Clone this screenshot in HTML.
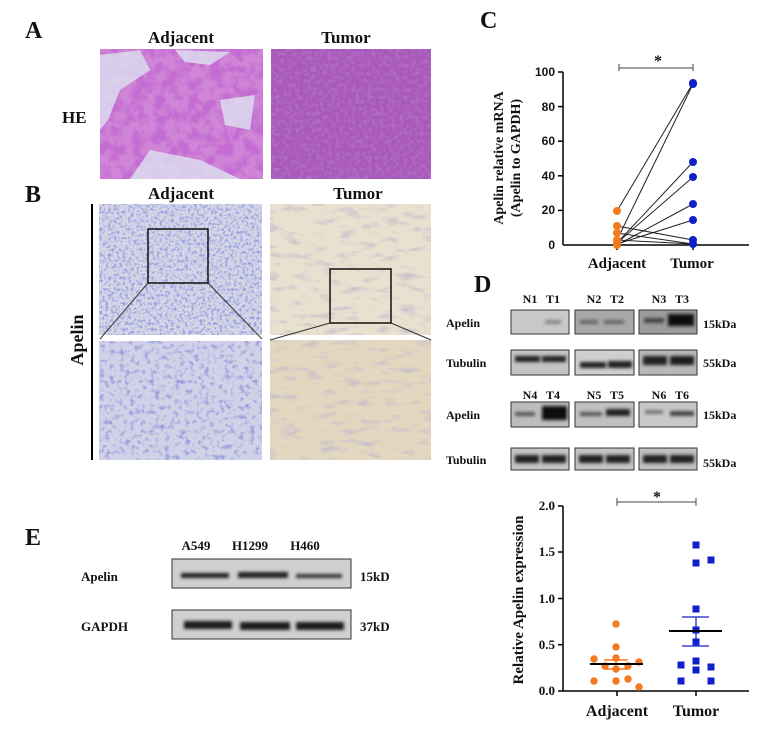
<!DOCTYPE html>
<html><head><meta charset="utf-8"><style>
html,body{margin:0;padding:0;background:#fff;width:774px;height:734px;overflow:hidden}
svg{display:block}
text{font-family:"Liberation Serif",serif;font-weight:bold;fill:#111}
</style></head><body>
<svg width="774" height="734" viewBox="0 0 774 734" xmlns="http://www.w3.org/2000/svg">
<defs>
<filter id="n1" x="0" y="0" width="100%" height="100%"><feTurbulence type="fractalNoise" baseFrequency="0.09" numOctaves="3" seed="3"/><feColorMatrix type="matrix" values="0 0 0 0 0.55  0 0 0 0 0.15  0 0 0 0 0.65  0 0 0 4 -1.6"/></filter>
<filter id="n2" x="0" y="0" width="100%" height="100%"><feTurbulence type="fractalNoise" baseFrequency="0.25" numOctaves="2" seed="7"/><feColorMatrix type="matrix" values="0 0 0 0 0.45  0 0 0 0 0.15  0 0 0 0 0.6  0 0 0 3 -1.3"/></filter>
<filter id="n3" x="0" y="0" width="100%" height="100%"><feTurbulence type="fractalNoise" baseFrequency="0.35" numOctaves="2" seed="11"/><feColorMatrix type="matrix" values="0 0 0 0 0.3  0 0 0 0 0.35  0 0 0 0 0.75  0 0 0 3.5 -1.6"/></filter>
<filter id="n4" x="0" y="0" width="100%" height="100%"><feTurbulence type="fractalNoise" baseFrequency="0.05 0.15" numOctaves="3" seed="5"/><feColorMatrix type="matrix" values="0 0 0 0 0.55  0 0 0 0 0.5  0 0 0 0 0.6  0 0 0 2.5 -1.3"/></filter>
<filter id="n5" x="0" y="0" width="100%" height="100%"><feTurbulence type="fractalNoise" baseFrequency="0.2" numOctaves="2" seed="2"/><feColorMatrix type="matrix" values="0 0 0 0 0.3  0 0 0 0 0.3  0 0 0 0 0.7  0 0 0 3 -1.5"/></filter>
<filter id="bl"><feGaussianBlur stdDeviation="1.6"/></filter>
</defs>

<!-- Panel A -->
<text x="25" y="38" font-size="24">A</text>
<text x="181" y="43" font-size="17" text-anchor="middle">Adjacent</text>
<text x="346" y="43" font-size="17" text-anchor="middle">Tumor</text>
<text x="62" y="123" font-size="17">HE</text>
<rect x="100" y="49" width="163" height="130" fill="#cf86d6"/>
<rect x="100" y="49" width="163" height="130" filter="url(#n1)"/>
<path d="M100 55 L140 50 L150 70 L120 90 L108 120 L100 130Z M150 150 L200 160 L240 179 L130 179Z M220 100 L255 95 L250 130 L225 125Z M175 50 L230 52 L210 65 L185 62Z" fill="#dde2f0" opacity="0.8"/>
<rect x="271" y="49" width="160" height="130" fill="#a85ab8"/>
<rect x="271" y="49" width="160" height="130" filter="url(#n2)"/>

<!-- Panel B -->
<text x="25" y="202" font-size="24">B</text>
<text x="181" y="199" font-size="17" text-anchor="middle">Adjacent</text>
<text x="358" y="199" font-size="17" text-anchor="middle">Tumor</text>
<line x1="92" y1="204" x2="92" y2="460" stroke="#000" stroke-width="2"/>
<text transform="translate(83,340) rotate(-90)" font-size="18" text-anchor="middle">Apelin</text>
<rect x="99" y="204" width="163" height="131" fill="#d6d6e6"/>
<rect x="99" y="204" width="163" height="131" filter="url(#n3)"/>
<rect x="99" y="341" width="163" height="119" fill="#d0d2e8"/>
<rect x="99" y="341" width="163" height="119" filter="url(#n5)"/>
<rect x="270" y="204" width="161" height="131" fill="#e9e1cf"/>
<rect x="270" y="204" width="161" height="131" filter="url(#n4)"/>
<rect x="270" y="340" width="161" height="120" fill="#e3d7bf"/>
<rect x="270" y="340" width="161" height="120" filter="url(#n4)"/>
<rect x="148" y="229" width="60" height="54" fill="none" stroke="#111" stroke-width="1.5"/>
<line x1="148" y1="283" x2="100" y2="339" stroke="#333"/>
<line x1="208" y1="283" x2="262" y2="339" stroke="#333"/>
<rect x="330" y="269" width="61" height="54" fill="none" stroke="#111" stroke-width="1.5"/>
<line x1="330" y1="323" x2="270" y2="340" stroke="#333"/>
<line x1="391" y1="323" x2="431" y2="340" stroke="#333"/>

<!-- Panel C -->
<text x="480" y="28" font-size="24">C</text>
<text transform="translate(503,158) rotate(-90)" font-size="14" text-anchor="middle">Apelin relative mRNA</text>
<text transform="translate(520,158) rotate(-90)" font-size="14" text-anchor="middle">(Apelin to GAPDH)</text>
<line x1="563" y1="72" x2="563" y2="245" stroke="#000" stroke-width="1.5"/>
<line x1="563" y1="245" x2="749" y2="245" stroke="#000" stroke-width="1.5"/>
<g stroke="#000" stroke-width="1.5">
<line x1="558" y1="72" x2="563" y2="72"/><line x1="558" y1="106.6" x2="563" y2="106.6"/><line x1="558" y1="141.2" x2="563" y2="141.2"/><line x1="558" y1="175.8" x2="563" y2="175.8"/><line x1="558" y1="210.4" x2="563" y2="210.4"/>
<line x1="617" y1="245" x2="617" y2="250"/><line x1="693" y1="245" x2="693" y2="250"/>
</g>
<g font-size="12" text-anchor="end">
<text x="555" y="76" style="font-family:'Liberation Sans'">100</text><text x="555" y="111" style="font-family:'Liberation Sans'">80</text><text x="555" y="145" style="font-family:'Liberation Sans'">60</text><text x="555" y="180" style="font-family:'Liberation Sans'">40</text><text x="555" y="214" style="font-family:'Liberation Sans'">20</text><text x="555" y="249" style="font-family:'Liberation Sans'">0</text>
</g>
<text x="617" y="268" font-size="15" text-anchor="middle">Adjacent</text>
<text x="692" y="268" font-size="15" text-anchor="middle">Tumor</text>
<path d="M619 64 V71 M619 68 H693 M693 64 V71" stroke="#444" fill="none"/>
<text x="658" y="66" font-size="16" text-anchor="middle">*</text>
<g stroke="#222" stroke-width="1">
<line x1="617" y1="211" x2="693" y2="83"/><line x1="617" y1="240" x2="693" y2="84"/><line x1="617" y1="243" x2="693" y2="162"/><line x1="617" y1="243" x2="693" y2="177"/><line x1="617" y1="245" x2="693" y2="204"/><line x1="617" y1="244" x2="693" y2="220"/><line x1="617" y1="226" x2="693" y2="240"/><line x1="617" y1="233" x2="693" y2="244"/><line x1="617" y1="240" x2="693" y2="244"/>
</g>
<g fill="#f47920">
<circle cx="617" cy="211" r="4"/><circle cx="617" cy="226" r="4"/><circle cx="617" cy="233" r="4"/><circle cx="617" cy="240" r="4"/><circle cx="617" cy="243" r="4"/><circle cx="617" cy="245" r="4"/>
</g>
<g fill="#1020c8">
<circle cx="693" cy="83" r="4"/><circle cx="693" cy="84" r="4"/><circle cx="693" cy="162" r="4"/><circle cx="693" cy="177" r="4"/><circle cx="693" cy="204" r="4"/><circle cx="693" cy="220" r="4"/><circle cx="693" cy="240" r="4"/><circle cx="693" cy="244" r="4"/>
</g>

<!-- Panel D -->
<text x="474" y="292" font-size="24">D</text>
<g font-size="12">
<text x="446" y="327">Apelin</text><text x="446" y="367">Tubulin</text><text x="446" y="419">Apelin</text><text x="446" y="464">Tubulin</text>
<text x="703" y="328">15kDa</text><text x="703" y="367">55kDa</text><text x="703" y="419">15kDa</text><text x="703" y="467">55kDa</text>
</g>
<g font-size="12" text-anchor="middle">
<text x="530" y="303">N1</text><text x="553" y="303">T1</text><text x="594" y="303">N2</text><text x="617" y="303">T2</text><text x="659" y="303">N3</text><text x="682" y="303">T3</text>
<text x="530" y="399">N4</text><text x="553" y="399">T4</text><text x="594" y="399">N5</text><text x="617" y="399">T5</text><text x="659" y="399">N6</text><text x="682" y="399">T6</text>
</g>
<g stroke="#333" stroke-width="1">
<rect x="511" y="310" width="58" height="24" fill="#c8c8c8"/><rect x="575" y="310" width="59" height="24" fill="#a8a8a8"/><rect x="639" y="310" width="58" height="24" fill="#9c9c9c"/>
<rect x="511" y="350" width="58" height="25" fill="#c4c4c4"/><rect x="575" y="350" width="59" height="25" fill="#cfcfcf"/><rect x="639" y="350" width="58" height="25" fill="#b8b8b8"/>
<rect x="511" y="402" width="58" height="25" fill="#bdbdbd"/><rect x="575" y="402" width="59" height="25" fill="#c0c0c0"/><rect x="639" y="402" width="58" height="25" fill="#c8c8c8"/>
<rect x="511" y="448" width="58" height="22" fill="#c4c4c4"/><rect x="575" y="448" width="59" height="22" fill="#c4c4c4"/><rect x="639" y="448" width="58" height="22" fill="#c0c0c0"/>
</g>
<g filter="url(#bl)">
<rect x="545" y="320" width="16" height="4" fill="#888"/>
<rect x="580" y="320" width="18" height="4" fill="#666"/><rect x="604" y="320" width="20" height="4" fill="#666"/>
<rect x="644" y="318" width="20" height="5" fill="#444"/><rect x="668" y="314" width="26" height="12" fill="#111"/>
<rect x="515" y="356" width="25" height="6" fill="#222"/><rect x="542" y="356" width="24" height="6" fill="#222"/>
<rect x="580" y="362" width="26" height="6" fill="#222"/><rect x="608" y="361" width="24" height="7" fill="#222"/>
<rect x="643" y="356" width="24" height="9" fill="#222"/><rect x="670" y="356" width="24" height="9" fill="#1a1a1a"/>
<rect x="515" y="412" width="20" height="4" fill="#555"/><rect x="542" y="406" width="25" height="14" fill="#0a0a0a"/>
<rect x="580" y="412" width="22" height="4" fill="#555"/><rect x="606" y="409" width="24" height="7" fill="#222"/>
<rect x="645" y="410" width="18" height="4" fill="#777"/><rect x="670" y="411" width="24" height="5" fill="#444"/>
<rect x="515" y="455" width="24" height="8" fill="#222"/><rect x="542" y="455" width="24" height="8" fill="#222"/>
<rect x="579" y="455" width="24" height="8" fill="#222"/><rect x="606" y="455" width="24" height="8" fill="#222"/>
<rect x="643" y="455" width="24" height="8" fill="#222"/><rect x="670" y="455" width="24" height="8" fill="#222"/>
</g>

<!-- Bottom scatter -->
<text transform="translate(523,600) rotate(-90)" font-size="15" text-anchor="middle">Relative Apelin  expression</text>
<line x1="563" y1="506" x2="563" y2="691" stroke="#000" stroke-width="1.5"/>
<line x1="563" y1="691" x2="749" y2="691" stroke="#000" stroke-width="1.5"/>
<g stroke="#000" stroke-width="1.5">
<line x1="558" y1="506" x2="563" y2="506"/><line x1="558" y1="552" x2="563" y2="552"/><line x1="558" y1="598.5" x2="563" y2="598.5"/><line x1="558" y1="644.7" x2="563" y2="644.7"/><line x1="558" y1="691" x2="563" y2="691"/>
<line x1="617" y1="691" x2="617" y2="696"/><line x1="696" y1="691" x2="696" y2="696"/>
</g>
<g font-size="13" text-anchor="end">
<text x="555" y="510">2.0</text><text x="555" y="556">1.5</text><text x="555" y="603">1.0</text><text x="555" y="649">0.5</text><text x="555" y="695">0.0</text>
</g>
<text x="617" y="716" font-size="16" text-anchor="middle">Adjacent</text>
<text x="696" y="716" font-size="16" text-anchor="middle">Tumor</text>
<path d="M617 498 V506 M617 502 H696 M696 498 V506" stroke="#444" fill="none"/>
<text x="657" y="502" font-size="16" text-anchor="middle">*</text>
<g stroke="#f47920" stroke-width="1.5"><line x1="604" y1="660" x2="628" y2="660"/><line x1="604" y1="669" x2="628" y2="669"/><line x1="616" y1="660" x2="616" y2="669"/></g>
<g fill="#f47920">
<circle cx="616" cy="624" r="3.7"/><circle cx="616" cy="647" r="3.7"/><circle cx="594" cy="659" r="3.7"/><circle cx="616" cy="658" r="3.7"/><circle cx="639" cy="662" r="3.7"/><circle cx="605" cy="666" r="3.7"/><circle cx="628" cy="666" r="3.7"/><circle cx="616" cy="669" r="3.7"/><circle cx="594" cy="681" r="3.7"/><circle cx="616" cy="681" r="3.7"/><circle cx="628" cy="679" r="3.7"/><circle cx="639" cy="687" r="3.7"/>
</g>
<line x1="590" y1="664" x2="643" y2="664" stroke="#000" stroke-width="2"/>
<g stroke="#3b45d0" stroke-width="1.5"><line x1="682" y1="617" x2="709" y2="617"/><line x1="682" y1="646" x2="709" y2="646"/><line x1="696" y1="617" x2="696" y2="646"/></g>
<g fill="#1020c8">
<rect x="692.5" y="541.5" width="7" height="7"/><rect x="692.5" y="559.5" width="7" height="7"/><rect x="707.5" y="556.5" width="7" height="7"/><rect x="692.5" y="605.5" width="7" height="7"/><rect x="692.5" y="626.5" width="7" height="7"/><rect x="692.5" y="638.5" width="7" height="7"/><rect x="677.5" y="661.5" width="7" height="7"/><rect x="692.5" y="657.5" width="7" height="7"/><rect x="707.5" y="663.5" width="7" height="7"/><rect x="692.5" y="666.5" width="7" height="7"/><rect x="677.5" y="677.5" width="7" height="7"/><rect x="707.5" y="677.5" width="7" height="7"/>
</g>
<line x1="669" y1="631" x2="722" y2="631" stroke="#000" stroke-width="2"/>

<!-- Panel E -->
<text x="25" y="545" font-size="24">E</text>
<g font-size="13" text-anchor="middle"><text x="196" y="550">A549</text><text x="250" y="550">H1299</text><text x="305" y="550">H460</text></g>
<text x="81" y="581" font-size="13">Apelin</text>
<text x="81" y="631" font-size="13">GAPDH</text>
<text x="360" y="581" font-size="13">15kD</text>
<text x="360" y="631" font-size="13">37kD</text>
<rect x="172" y="559" width="179" height="29" fill="#d0d0d0" stroke="#333"/>
<rect x="172" y="610" width="179" height="29" fill="#d0d0d0" stroke="#333"/>
<g filter="url(#bl)">
<rect x="181" y="573" width="48" height="5" fill="#222"/><rect x="238" y="572" width="50" height="6" fill="#222"/><rect x="296" y="574" width="46" height="4" fill="#333"/>
<rect x="184" y="621" width="48" height="8" fill="#1a1a1a"/><rect x="240" y="622" width="50" height="8" fill="#1a1a1a"/><rect x="296" y="622" width="48" height="8" fill="#1a1a1a"/>
</g>
</svg>
</body></html>
